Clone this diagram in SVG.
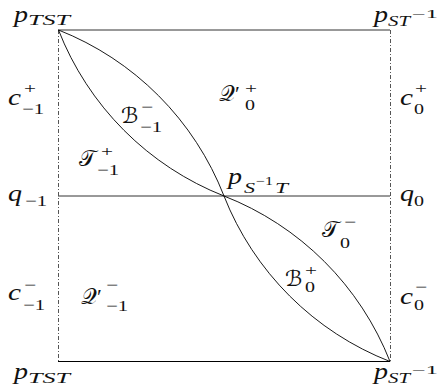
<svg xmlns="http://www.w3.org/2000/svg" width="444" height="392" viewBox="0 0 444 392">
<style>
text{font-family:"Liberation Serif","DejaVu Serif","DejaVu Sans",serif;fill:#111}
.m{font-style:italic;font-size:23px}
.k{font-size:22px}
.s{font-style:italic;font-size:15px}
.n{font-size:15px}
.ss{font-size:12px}
.edge{fill:none;stroke:#000;stroke-width:0.9}
.hl{stroke:#333;stroke-width:1}
.vl{stroke:#555;stroke-width:1;stroke-dasharray:4 2 1 2}
</style>
<rect width="444" height="392" fill="#fff"/>
<g id="connectors">
<line class="hl" x1="58" y1="30" x2="390" y2="30"/>
<line class="hl" x1="58" y1="196" x2="390" y2="196"/>
<line x1="58" y1="361.5" x2="390" y2="361.5" stroke="#000" stroke-width="1"/>
<line class="vl" x1="58.5" y1="30" x2="58.5" y2="361.5"/>
<line class="vl" x1="390.5" y1="30" x2="390.5" y2="361.5"/>
<path class="edge" d="M58.5,30 A293,293 0 0 1 224,196"/>
<path class="edge" d="M58.5,30 A293,293 0 0 0 224,196"/>
<path class="edge" d="M224,196 A293,293 0 0 1 390,361.5"/>
<path class="edge" d="M224,196 A293,293 0 0 0 390,361.5"/>
</g>
<g id="pTST-top">
<text class="m" x="14" y="22" textLength="14" lengthAdjust="spacingAndGlyphs">p</text>
<text class="s" x="28" y="25" textLength="42" lengthAdjust="spacingAndGlyphs">TST</text>
</g>
<g id="pSTinv-top">
<text class="m" x="374" y="22" textLength="14" lengthAdjust="spacingAndGlyphs">p</text>
<text class="s" x="388" y="26" textLength="22" lengthAdjust="spacingAndGlyphs">ST</text>
<text class="ss" x="412" y="18" textLength="26" lengthAdjust="spacingAndGlyphs">−1</text>
</g>
<g id="cp-1">
<text class="m" x="8" y="105" textLength="13" lengthAdjust="spacingAndGlyphs">c</text>
<text class="n" x="24" y="93" textLength="12" lengthAdjust="spacingAndGlyphs">+</text>
<text class="n" x="22" y="114" textLength="22" lengthAdjust="spacingAndGlyphs">−1</text>
</g>
<g id="cp0">
<text class="m" x="400" y="105" textLength="13" lengthAdjust="spacingAndGlyphs">c</text>
<text class="n" x="415" y="93" textLength="12" lengthAdjust="spacingAndGlyphs">+</text>
<text class="n" x="414" y="114" textLength="10" lengthAdjust="spacingAndGlyphs">0</text>
</g>
<g id="Bm-1">
<text class="k" x="121" y="123">ℬ</text>
<text class="n" x="141" y="112" textLength="12" lengthAdjust="spacingAndGlyphs">−</text>
<text class="n" x="140" y="132" textLength="22" lengthAdjust="spacingAndGlyphs">−1</text>
</g>
<g id="Qp0">
<text class="k" x="219" y="101">𝒬′</text>
<text class="n" x="245" y="93" textLength="12" lengthAdjust="spacingAndGlyphs">+</text>
<text class="n" x="245" y="110" textLength="10" lengthAdjust="spacingAndGlyphs">0</text>
</g>
<g id="Tp-1">
<text class="k" x="79" y="166">𝒯</text>
<text class="n" x="101" y="156" textLength="12" lengthAdjust="spacingAndGlyphs">+</text>
<text class="n" x="97" y="175" textLength="22" lengthAdjust="spacingAndGlyphs">−1</text>
</g>
<g id="q-1">
<text class="m" x="8" y="201" textLength="14" lengthAdjust="spacingAndGlyphs">q</text>
<text class="n" x="25" y="206" textLength="22" lengthAdjust="spacingAndGlyphs">−1</text>
</g>
<g id="pSinvT">
<text class="m" x="228" y="184" textLength="14" lengthAdjust="spacingAndGlyphs">p</text>
<text class="s" x="244" y="193" textLength="11" lengthAdjust="spacingAndGlyphs">S</text>
<text class="ss" x="256" y="185" textLength="17" lengthAdjust="spacingAndGlyphs">−1</text>
<text class="s" x="275" y="193" textLength="13" lengthAdjust="spacingAndGlyphs">T</text>
</g>
<g id="q0">
<text class="m" x="400" y="201" textLength="14" lengthAdjust="spacingAndGlyphs">q</text>
<text class="n" x="414" y="206" textLength="10" lengthAdjust="spacingAndGlyphs">0</text>
</g>
<g id="Tm0">
<text class="k" x="322" y="237">𝒯</text>
<text class="n" x="344" y="227" textLength="12" lengthAdjust="spacingAndGlyphs">−</text>
<text class="n" x="340" y="248" textLength="10" lengthAdjust="spacingAndGlyphs">0</text>
</g>
<g id="Bp0">
<text class="k" x="285" y="286">ℬ</text>
<text class="n" x="305" y="275" textLength="12" lengthAdjust="spacingAndGlyphs">+</text>
<text class="n" x="305" y="292" textLength="10" lengthAdjust="spacingAndGlyphs">0</text>
</g>
<g id="cm-1">
<text class="m" x="8" y="300" textLength="13" lengthAdjust="spacingAndGlyphs">c</text>
<text class="n" x="24" y="290" textLength="12" lengthAdjust="spacingAndGlyphs">−</text>
<text class="n" x="23" y="310" textLength="22" lengthAdjust="spacingAndGlyphs">−1</text>
</g>
<g id="Qm-1">
<text class="k" x="81" y="304">𝒬′</text>
<text class="n" x="106" y="290" textLength="12" lengthAdjust="spacingAndGlyphs">−</text>
<text class="n" x="106" y="311" textLength="22" lengthAdjust="spacingAndGlyphs">−1</text>
</g>
<g id="cm0">
<text class="m" x="400" y="304" textLength="13" lengthAdjust="spacingAndGlyphs">c</text>
<text class="n" x="415" y="292" textLength="12" lengthAdjust="spacingAndGlyphs">−</text>
<text class="n" x="414" y="310" textLength="10" lengthAdjust="spacingAndGlyphs">0</text>
</g>
<g id="pTST-bot">
<text class="m" x="14" y="379" textLength="14" lengthAdjust="spacingAndGlyphs">p</text>
<text class="s" x="28" y="383" textLength="42" lengthAdjust="spacingAndGlyphs">TST</text>
</g>
<g id="pSTinv-bot">
<text class="m" x="374" y="379" textLength="14" lengthAdjust="spacingAndGlyphs">p</text>
<text class="s" x="388" y="383" textLength="22" lengthAdjust="spacingAndGlyphs">ST</text>
<text class="ss" x="412" y="374" textLength="26" lengthAdjust="spacingAndGlyphs">−1</text>
</g>
</svg>
